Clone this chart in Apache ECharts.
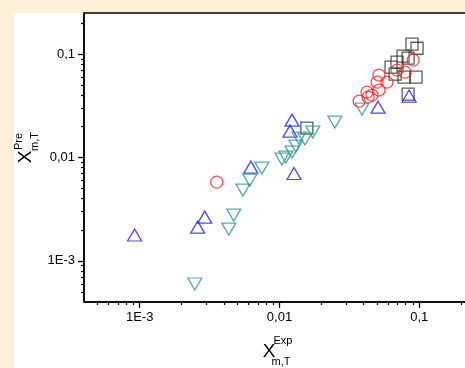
<!DOCTYPE html>
<html>
<head>
<meta charset="utf-8">
<script src="https://cdn.jsdelivr.net/npm/echarts@6/dist/echarts.min.js"></script>
<style>
html, body { margin: 0; padding: 0; background: #fdf2d8; overflow: hidden; width: 465px; height: 368px; }
#chart { width: 490px; height: 368px; }
</style>
</head>
<body>
<div id="chart"></div>
<script>
// [X exp, X pre] pairs per series
var squarePoints = [
  [0.0887, 0.125], [0.0964, 0.114], [0.0766, 0.0957], [0.0832, 0.0915],
  [0.0693, 0.0837], [0.0628, 0.0748], [0.0672, 0.0641], [0.0778, 0.0600],
  [0.0948, 0.0600], [0.0832, 0.0410], [0.0157, 0.0192]
];
var circlePoints = [
  [0.00356, 0.00578], [0.0371, 0.0351], [0.0423, 0.0429], [0.0430, 0.0384],
  [0.0459, 0.0401], [0.0515, 0.0449], [0.0499, 0.0536], [0.0587, 0.0536],
  [0.0515, 0.0627], [0.0693, 0.0700], [0.0791, 0.0670], [0.0904, 0.0875]
];
var upTrianglePoints = [
  [0.00092, 0.00178], [0.00260, 0.00212], [0.00292, 0.00265], [0.00624, 0.00807],
  [0.0127, 0.0070], [0.0119, 0.0180], [0.0123, 0.0230], [0.0507, 0.0307],
  [0.0845, 0.0393]
];
var downTrianglePoints = [
  [0.00248, 0.000597], [0.00434, 0.00203], [0.00471, 0.00277], [0.00547, 0.00484],
  [0.00614, 0.00604], [0.00748, 0.00790], [0.0104, 0.00965], [0.0111, 0.0101],
  [0.0123, 0.01127], [0.0131, 0.0129], [0.01377, 0.0154], [0.0152, 0.0151],
  [0.0173, 0.0176], [0.0249, 0.0220], [0.0389, 0.0294]
];

var xTicks = [0.001, 0.01, 0.1];
var xTickLabels = ['1E-3', '0,01', '0,1'];
var yTicks = [0.001, 0.01, 0.1];
var yTickLabels = ['1E-3', '0,01', '0,1'];

var xMin = 0.0004, xMax = 0.3;
var yMin = 0.0004, yMax = 0.25;

function minorTicks(lo, hi) {
  var out = [];
  for (var e = -4; e < 0; e++) {
    for (var m = 2; m <= 9; m++) {
      var v = m * Math.pow(10, e);
      if (v > lo * 1.0001 && v < hi * 0.9999) out.push(v);
    }
  }
  return out;
}

function labelFor(ticks, labels) {
  return function (v) {
    for (var i = 0; i < ticks.length; i++) {
      if (Math.abs(Math.log10(v) - Math.log10(ticks[i])) < 0.01) return labels[i];
    }
    return '';
  };
}

var font = 'Liberation Sans, Arial, sans-serif';

function majorAxis(ticks, labels, min, max, pos) {
  return {
    type: 'log', logBase: 10, min: min, max: max, position: pos,
    axisLine: { show: true, lineStyle: { color: '#000', width: 1.5 } },
    axisTick: { show: true, inside: false, length: 6, customValues: ticks, lineStyle: { color: '#000', width: 1.3 } },
    axisLabel: { show: true, margin: 9, customValues: ticks, formatter: labelFor(ticks, labels),
      color: '#000', fontSize: 13, fontFamily: font },
    splitLine: { show: false },
    minorTick: { show: false }
  };
}

function minorAxis(min, max, pos) {
  return {
    type: 'log', logBase: 10, min: min, max: max, position: pos,
    axisLine: { show: false },
    axisTick: { show: true, inside: false, length: 3, customValues: minorTicks(min, max), lineStyle: { color: '#000', width: 1.2 } },
    axisLabel: { show: false },
    splitLine: { show: false }
  };
}

function hollow(color) {
  return { color: 'rgba(0,0,0,0)', borderColor: color, borderWidth: 1.3 };
}

var myChart = echarts.init(document.getElementById('chart'));
var option = {
  animation: false,
  backgroundColor: '#fdf2d8',
  graphic: [
    { type: 'rect', left: 14, top: 13, z: -10, shape: { width: 480, height: 360 }, style: { fill: '#fff' } },
    { type: 'text', x: 26, y: 157, rotation: Math.PI / 2, style: { text: 'X', font: '19px ' + font, fill: '#000', align: 'center', verticalAlign: 'middle' } },
    { type: 'text', x: 18.5, y: 141.5, rotation: Math.PI / 2, style: { text: 'Pre', font: '11px ' + font, fill: '#000', align: 'center', verticalAlign: 'middle' } },
    { type: 'text', x: 35, y: 141.5, rotation: Math.PI / 2, style: { text: 'm,T', font: '11px ' + font, fill: '#000', align: 'center', verticalAlign: 'middle' } },
    { type: 'text', x: 269, y: 352, style: { text: 'X', font: '19px ' + font, fill: '#000', align: 'center', verticalAlign: 'middle' } },
    { type: 'text', x: 283, y: 341, style: { text: 'Exp', font: '11px ' + font, fill: '#000', align: 'center', verticalAlign: 'middle' } },
    { type: 'text', x: 281, y: 362, style: { text: 'm,T', font: '11px ' + font, fill: '#000', align: 'center', verticalAlign: 'middle' } }
  ],
  grid: {
    left: 84, top: 13, right: 4, bottom: 66,
    show: true, backgroundColor: '#fff', borderColor: '#000', borderWidth: 1.5
  },
  xAxis: [majorAxis(xTicks, xTickLabels, xMin, xMax, 'bottom'), minorAxis(xMin, xMax, 'bottom')],
  yAxis: [majorAxis(yTicks, yTickLabels, yMin, yMax, 'left'), minorAxis(yMin, yMax, 'left')],
  series: [
    { type: 'scatter', data: squarePoints, symbol: 'rect', symbolSize: 12, itemStyle: hollow('#333') },
    { type: 'scatter', data: circlePoints, symbol: 'circle', symbolSize: 12, itemStyle: hollow('#ff2020') },
    { type: 'scatter', data: upTrianglePoints, symbol: 'triangle', symbolSize: [14, 12], itemStyle: hollow('#2020ff') },
    { type: 'scatter', data: downTrianglePoints, symbol: 'triangle', symbolRotate: 180, symbolSize: [14, 12], itemStyle: hollow('#2a9696') }
  ]
};
myChart.setOption(option);
</script>
</body>
</html>
